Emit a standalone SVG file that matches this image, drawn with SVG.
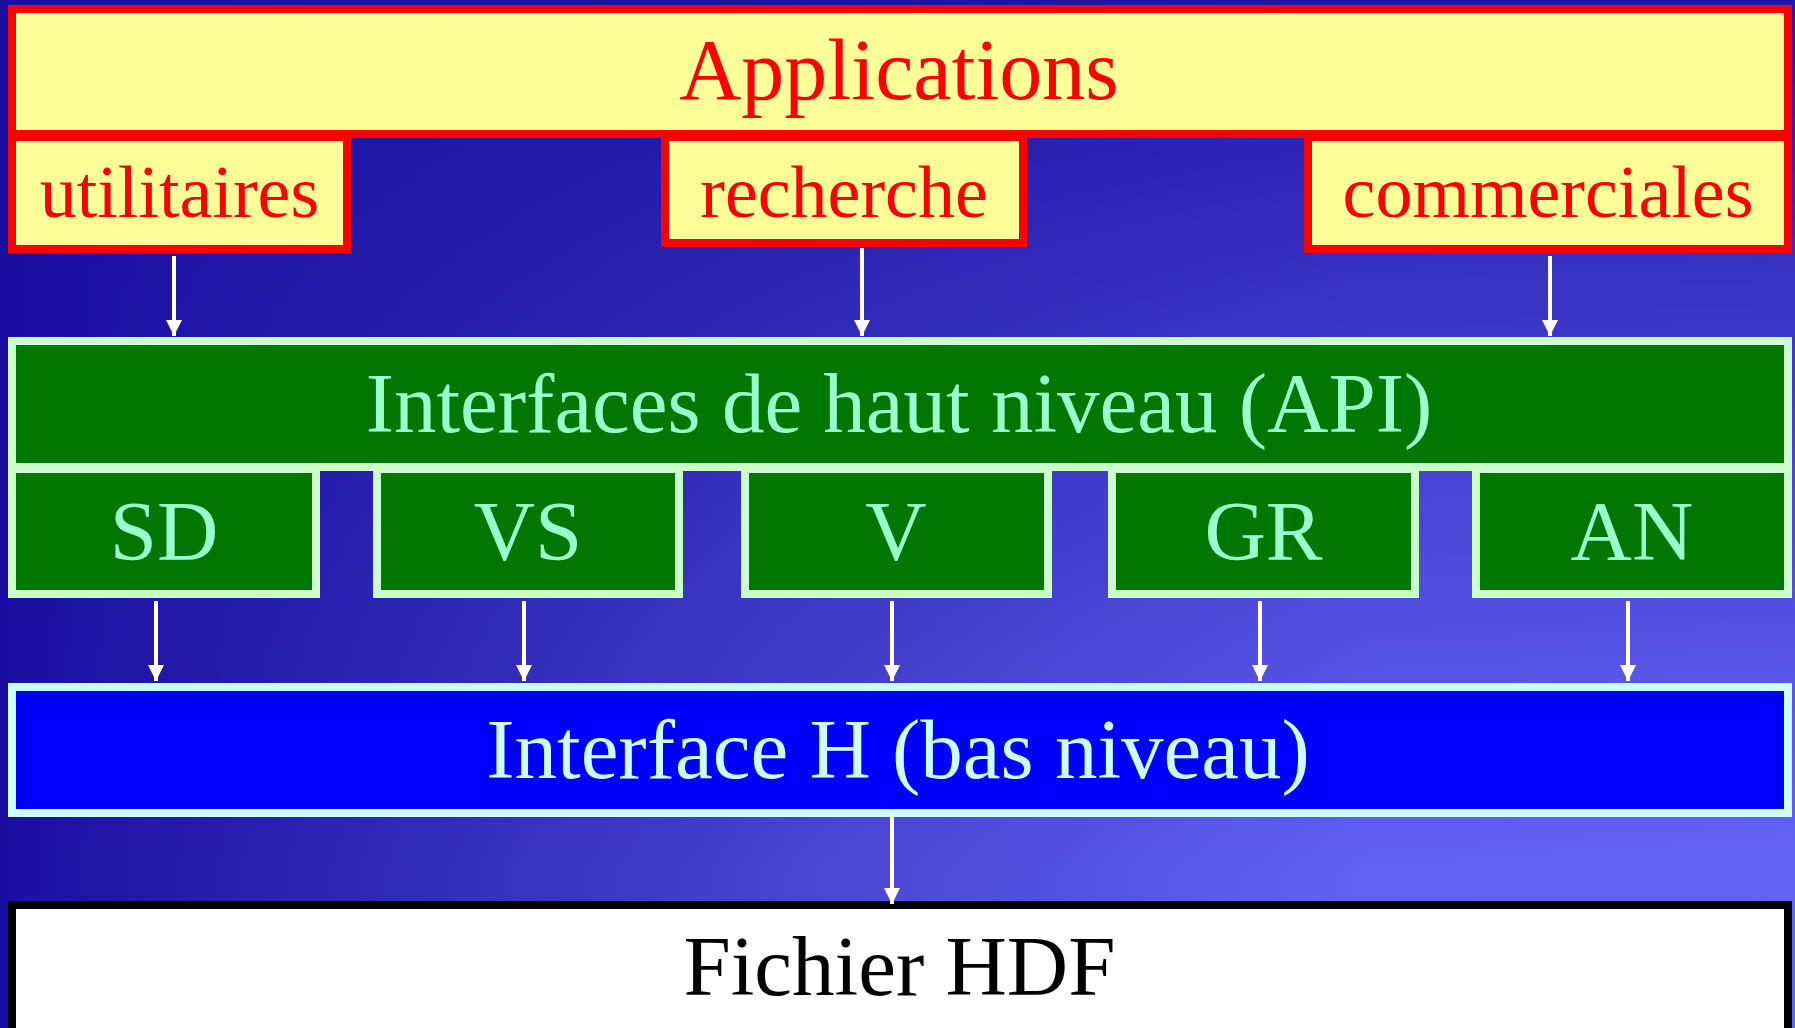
<svg xmlns="http://www.w3.org/2000/svg" width="1795" height="1028" viewBox="0 0 1795 1028">
<defs>
<linearGradient id="bgH" gradientUnits="userSpaceOnUse" x1="0" y1="0" x2="1795" y2="0">
<stop offset="0" stop-color="#1a0fa0"/>
<stop offset="0.45" stop-color="#4846d2"/>
<stop offset="0.76" stop-color="#6262f2"/>
<stop offset="1" stop-color="#6464f4"/>
</linearGradient>
<linearGradient id="bgV" gradientUnits="userSpaceOnUse" x1="0" y1="0" x2="0" y2="1028">
<stop offset="0" stop-color="#1a0fa0" stop-opacity="0.9"/>
<stop offset="0.3" stop-color="#1a0fa0" stop-opacity="0.55"/>
<stop offset="0.6" stop-color="#1a0fa0" stop-opacity="0.22"/>
<stop offset="0.85" stop-color="#1a0fa0" stop-opacity="0"/>
</linearGradient>
<marker id="ah" viewBox="0 0 16 16" refX="16" refY="8" markerWidth="16" markerHeight="16" markerUnits="userSpaceOnUse" orient="auto">
<path d="M0,0 L16,8 L0,16 z" fill="#ffffff"/>
</marker>
<style>
.app{fill:#ffff99;stroke:#ff0000;stroke-width:8}
.api{fill:#007700;stroke:#ccffcc;stroke-width:8}
.low{fill:#0000ff;stroke:#ccffff;stroke-width:8}
.file{fill:#ffffff;stroke:#000000;stroke-width:8}
text{font-family:"Liberation Serif","Times New Roman",serif;text-anchor:middle}
.tapp{fill:#ff0000}
.tapi{fill:#99ffcc;font-size:85px}
.tlow{fill:#ccffff;font-size:85px}
.tfile{fill:#000000;font-size:85px}
.conn line{stroke:#ffffff;stroke-width:4;marker-end:url(#ah)}
</style>
</defs>
<rect x="0" y="0" width="1795" height="1028" fill="url(#bgH)"/>
<rect x="0" y="0" width="1795" height="1028" fill="url(#bgV)"/>

<g id="applications">
<rect class="app" x="12" y="9" width="1776" height="125"/>
<text class="tapp" x="899" y="99" font-size="86">Applications</text>
</g>
<g id="utilitaires">
<rect class="app" x="12" y="137" width="335" height="112"/>
<text class="tapp" x="179.5" y="217" font-size="74">utilitaires</text>
</g>
<g id="recherche">
<rect class="app" x="665" y="137" width="358" height="106"/>
<text class="tapp" x="844" y="217" font-size="74">recherche</text>
</g>
<g id="commerciales">
<rect class="app" x="1308" y="137" width="480" height="112"/>
<text class="tapp" x="1548" y="217" font-size="74">commerciales</text>
</g>

<g id="api">
<rect class="api" x="12" y="341" width="1776" height="126"/>
<text class="tapi" x="899" y="432">Interfaces de haut niveau (API)</text>
</g>
<g id="sd">
<rect class="api" x="12" y="469" width="304" height="125"/>
<text class="tapi" x="164" y="560">SD</text>
</g>
<g id="vs">
<rect class="api" x="377" y="469" width="302" height="125"/>
<text class="tapi" x="528" y="560">VS</text>
</g>
<g id="v">
<rect class="api" x="745" y="469" width="303" height="125"/>
<text class="tapi" x="896" y="560">V</text>
</g>
<g id="gr">
<rect class="api" x="1112" y="469" width="303" height="125"/>
<text class="tapi" x="1263.5" y="560">GR</text>
</g>
<g id="an">
<rect class="api" x="1476" y="469" width="312" height="125"/>
<text class="tapi" x="1632" y="560">AN</text>
</g>

<g id="interface-h">
<rect class="low" x="12" y="687" width="1776" height="126"/>
<text class="tlow" x="898" y="778">Interface H (bas niveau)</text>
</g>

<g id="fichier-hdf">
<rect class="file" x="12" y="905" width="1776" height="140"/>
<text class="tfile" x="899.5" y="995">Fichier HDF</text>
</g>

<g id="connectors" class="conn">
<line x1="174" y1="256" x2="174" y2="336"/>
<line x1="862" y1="248" x2="862" y2="336"/>
<line x1="1550" y1="256" x2="1550" y2="336"/>
<line x1="156" y1="601" x2="156" y2="681"/>
<line x1="524" y1="601" x2="524" y2="681"/>
<line x1="892" y1="601" x2="892" y2="681"/>
<line x1="1260" y1="601" x2="1260" y2="681"/>
<line x1="1628" y1="601" x2="1628" y2="681"/>
<line x1="892" y1="813" x2="892" y2="904"/>
</g>
</svg>
